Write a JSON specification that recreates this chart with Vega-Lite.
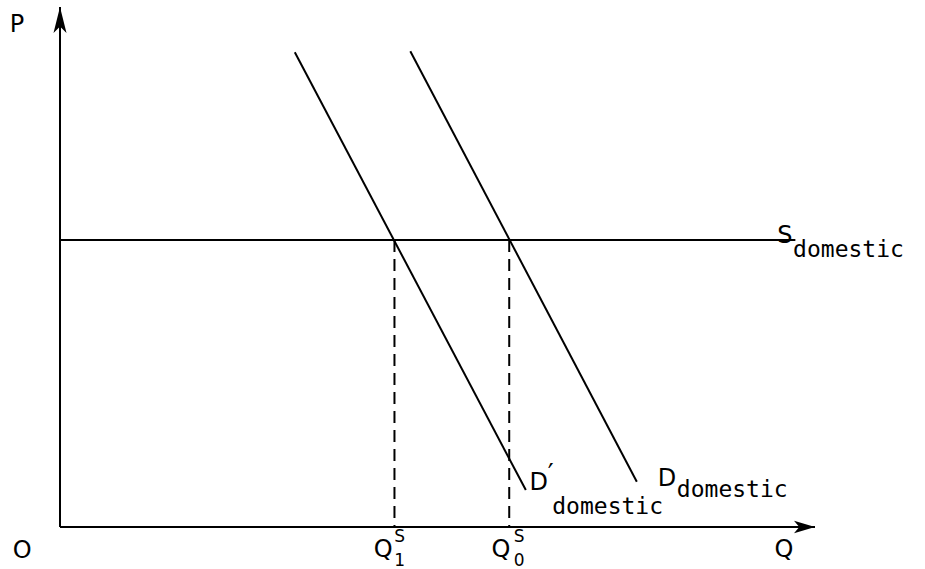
{
  "$schema": "https://vega.github.io/schema/vega-lite/v6.json",
  "width": 755,
  "height": 520,
  "autosize": "none",
  "padding": {"left": 60, "top": 7, "right": 110, "bottom": 42},
  "background": "white",
  "config": {"view": {"stroke": null}},
  "datasets": {
    "solid": [
      {"seg": "P axis", "Q": 0, "P": 0, "Q2": 0, "P2": 100},
      {"seg": "Q axis", "Q": 0, "P": 0, "Q2": 100, "P2": 0},
      {"seg": "S domestic", "Q": 0, "P": 55.2, "Q2": 97.4, "P2": 55.2},
      {"seg": "D' domestic", "Q": 31.1, "P": 91.3, "Q2": 61.7, "P2": 7.1},
      {"seg": "D domestic", "Q": 46.4, "P": 91.5, "Q2": 76.4, "P2": 8.7}
    ],
    "dashed": [
      {"seg": "Q1S", "Q": 44.3, "P": 55.2, "Q2": 44.3, "P2": 0},
      {"seg": "Q0S", "Q": 59.5, "P": 55.2, "Q2": 59.5, "P2": 0}
    ],
    "upArrow": [{"Q": 0, "P": 100}],
    "rightArrow": [{"Q": 100, "P": 0}],
    "bigText": [
      {"label": "P", "Q": -5.7, "P": 96.5},
      {"label": "O", "Q": -5.0, "P": -4.6},
      {"label": "Q", "Q": 95.9, "P": -4.4},
      {"label": "Q", "Q": 42.8, "P": -4.4},
      {"label": "Q", "Q": 58.4, "P": -4.4},
      {"label": "S", "Q": 96.0, "P": 56.0},
      {"label": "D", "Q": 63.4, "P": 8.5},
      {"label": "D", "Q": 80.4, "P": 9.2}
    ],
    "smallText": [
      {"label": "S", "Q": 45.0, "P": -1.9},
      {"label": "1", "Q": 45.0, "P": -6.5},
      {"label": "S", "Q": 60.8, "P": -1.9},
      {"label": "0", "Q": 60.8, "P": -6.5}
    ],
    "prime": [
      {"label": "′", "Q": 65.0, "P": 10.0}
    ],
    "subText": [
      {"label": "domestic", "Q": 97.1, "P": 53.3},
      {"label": "domestic", "Q": 65.2, "P": 3.8},
      {"label": "domestic", "Q": 81.7, "P": 7.1}
    ]
  },
  "layer": [
    {
      "data": {"name": "solid"},
      "mark": {"type": "rule", "color": "black", "strokeWidth": 2},
      "encoding": {
        "x": {"field": "Q", "type": "quantitative", "scale": {"domain": [0, 100]}, "axis": null},
        "y": {"field": "P", "type": "quantitative", "scale": {"domain": [0, 100]}, "axis": null},
        "x2": {"field": "Q2"},
        "y2": {"field": "P2"}
      }
    },
    {
      "data": {"name": "dashed"},
      "mark": {"type": "rule", "color": "black", "strokeWidth": 2, "strokeDash": [12, 7]},
      "encoding": {
        "x": {"field": "Q", "type": "quantitative"},
        "y": {"field": "P", "type": "quantitative"},
        "x2": {"field": "Q2"},
        "y2": {"field": "P2"}
      }
    },
    {
      "data": {"name": "upArrow"},
      "mark": {"type": "point", "shape": "M0,0 L-0.5,2 L0,1.5 L0.5,2 Z", "size": 676, "filled": true, "color": "black", "opacity": 1},
      "encoding": {
        "x": {"field": "Q", "type": "quantitative"},
        "y": {"field": "P", "type": "quantitative"}
      }
    },
    {
      "data": {"name": "rightArrow"},
      "mark": {"type": "point", "shape": "M0,0 L-2,-0.6 L-1.5,0 L-2,0.6 Z", "size": 441, "filled": true, "color": "black", "opacity": 1},
      "encoding": {
        "x": {"field": "Q", "type": "quantitative"},
        "y": {"field": "P", "type": "quantitative"}
      }
    },
    {
      "data": {"name": "bigText"},
      "mark": {"type": "text", "font": "DejaVu Sans", "fontSize": 24, "color": "black", "align": "center", "baseline": "middle"},
      "encoding": {
        "x": {"field": "Q", "type": "quantitative"},
        "y": {"field": "P", "type": "quantitative"},
        "text": {"field": "label"}
      }
    },
    {
      "data": {"name": "smallText"},
      "mark": {"type": "text", "font": "DejaVu Sans", "fontSize": 17, "color": "black", "align": "center", "baseline": "middle"},
      "encoding": {
        "x": {"field": "Q", "type": "quantitative"},
        "y": {"field": "P", "type": "quantitative"},
        "text": {"field": "label"}
      }
    },
    {
      "data": {"name": "prime"},
      "mark": {"type": "text", "font": "DejaVu Sans", "fontSize": 26, "color": "black", "align": "center", "baseline": "middle"},
      "encoding": {
        "x": {"field": "Q", "type": "quantitative"},
        "y": {"field": "P", "type": "quantitative"},
        "text": {"field": "label"}
      }
    },
    {
      "data": {"name": "subText"},
      "mark": {"type": "text", "font": "DejaVu Sans Mono", "fontSize": 23, "color": "black", "align": "left", "baseline": "middle"},
      "encoding": {
        "x": {"field": "Q", "type": "quantitative"},
        "y": {"field": "P", "type": "quantitative"},
        "text": {"field": "label"}
      }
    }
  ]
}
